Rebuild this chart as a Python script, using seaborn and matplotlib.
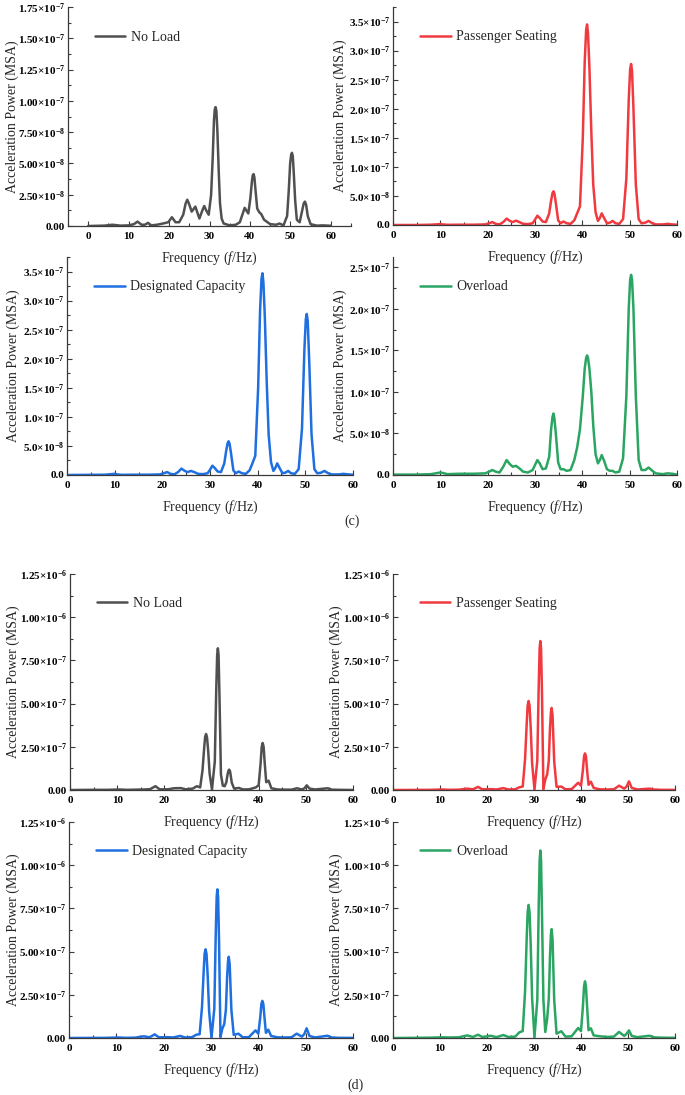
import numpy as np
import matplotlib
matplotlib.use("Agg")
import matplotlib.pyplot as plt
import seaborn as sns
from matplotlib.ticker import FixedLocator, MultipleLocator

sns.set_theme(style="ticks")
plt.rcParams.update({
    "font.family": ["Liberation Serif", "DejaVu Serif"],
    "mathtext.fontset": "custom",
    "mathtext.rm": "Liberation Serif",
    "mathtext.it": "Liberation Serif:italic",
    "mathtext.bf": "Liberation Serif:bold",
    "mathtext.default": "bf",
})

# ---------------- data (power values in units of 1e-9 MSA) ----------------
# (c) No Load
FREQ_C1 = [0, 4, 6, 8, 10,
           11.3, 12.2, 13.2, 14, 14.8,
           15.6, 17, 18.5, 19.8, 20.7,
           21.6, 22.5, 23.5, 24.1, 24.5,
           24.9, 25.6, 26.5, 27.5, 28.3,
           28.7, 29.1, 29.8, 30.4, 30.8,
           31.1, 31.3, 31.5, 31.7, 31.95,
           32.3, 32.6, 33.0, 33.5, 35,
           36.5, 37.5, 38.7, 39.6, 40.1,
           40.5, 40.7, 40.9, 41.1, 41.4,
           41.8, 42.3, 42.8, 43.5, 45,
           46.5, 47.3, 48.3, 49.2, 49.6,
           49.95, 50.2, 50.4, 50.6, 50.85,
           51.2, 51.6, 52.3, 52.9, 53.3,
           53.6, 53.9, 54.3, 55, 56.5,
           58, 60]
NL_C = [0, 0.3, 1, 0.3, 0.5,
        1.5, 3.5, 1, 1, 2.5,
        0.5, 1, 2, 3, 7,
        3, 3, 9, 18, 21,
        18, 11.5, 15.5, 6, 13,
        16, 13, 9, 25, 55,
        84, 93, 95, 92, 76,
        42, 18, 6, 2, 0.5,
        1, 3, 14.5, 10, 22,
        36, 40.5, 41.5, 39, 28,
        14, 11, 9.5, 5, 1.5,
        1, 2, 0.5, 8, 28,
        50, 57, 58.5, 56, 42,
        20, 5, 3, 12, 18,
        19.5, 17, 8, 1.5, 0.3,
        0.5, 0.2]

# (c) Passenger Seating / Designated Capacity / Overload
FREQ_C = [0, 5, 8, 10, 10.5,
          11.5, 14, 17, 19.5, 20.3,
          21, 21.7, 22.5, 23.3, 24,
          24.7, 25.3, 26, 26.7, 27.5,
          28.5, 29.5, 30, 30.5, 31,
          31.6, 32.3, 33, 33.4, 33.7,
          33.9, 34.1, 34.4, 34.9, 35.4,
          36, 36.7, 37.5, 38.3, 38.9,
          39.5, 40.1, 40.5, 40.8, 41.0,
          41.2, 41.5, 41.9, 42.3, 42.8,
          43.3, 43.7, 44.1, 44.6, 45.2,
          45.8, 46.4, 47, 47.8, 48.6,
          49.3, 49.8, 50.1, 50.3, 50.5,
          50.8, 51.3, 51.9, 52.5, 53.3,
          54, 54.8, 55.5, 57, 58,
          59, 60]
PS_C = [0, 0, 0.5, 1.5, 1,
        0.3, 0.5, 0.5, 1, 3,
        5, 2, 1, 5, 11,
        7, 5, 7.5, 5, 2,
        1.5, 3, 9, 16, 12,
        6, 5, 20, 42, 55,
        58, 54, 38, 8, 3,
        6, 3, 2, 8, 20,
        32, 150, 280, 335, 345,
        330, 270, 160, 70, 22,
        7, 12, 20, 12, 3,
        4, 7, 3, 2, 10,
        80, 215, 268, 277, 265,
        200, 70, 10, 3, 4,
        7, 3, 1, 1, 2,
        1, 0.5]
DC_C = [0, 0.3, 0.5, 2, 1,
        0.3, 0.5, 0.5, 1, 3,
        5, 2, 1, 5, 11,
        7, 5, 7, 5, 2,
        1.5, 3, 9, 16, 12,
        6, 5, 20, 42, 55,
        58, 54, 38, 8, 3,
        6, 3, 2, 8, 20,
        33, 150, 282, 337, 347,
        332, 272, 160, 70, 22,
        7, 12, 20, 12, 3,
        4, 7, 3, 2, 10,
        80, 215, 268, 277, 265,
        200, 70, 10, 3, 4,
        7, 3, 1, 1, 2,
        1, 0.5]
OL_C = [0.5, 0.5, 1, 3, 2.5,
        1, 1.5, 1.5, 2, 4,
        6, 4, 3, 10, 18,
        13, 10, 11, 8, 4,
        3, 6, 12, 18, 14,
        7, 8, 22, 55, 70,
        74, 68, 50, 15, 7,
        7, 5, 6, 18, 33,
        55, 95, 128, 141, 144,
        141, 128, 100, 60, 25,
        14, 18, 24, 17, 7,
        5, 5, 3, 4, 20,
        95, 200, 235, 241, 235,
        200, 95, 18, 6, 6,
        9, 5, 2, 1, 2,
        1.5, 0.5]

# (d) all four load cases
FREQ_D = [0, 5, 8, 10.5, 12,
          14, 15.8, 17, 18.1, 19,
          20.8, 22, 23.5, 24.5, 26,
          26.9, 27.6, 28.1, 28.45, 28.65,
          28.85, 29.05, 29.3, 29.6, 30.1,
          30.7, 31.0, 31.2, 31.35, 31.5,
          31.7, 32.0, 32.4, 32.8, 33.15,
          33.4, 33.6, 33.75, 33.95, 34.3,
          34.8, 35.8, 36.7, 38, 39.4,
          40, 40.4, 40.65, 40.85, 41.05,
          41.3, 41.6, 42.1, 42.7, 44,
          45.5, 47, 48.1, 49.2, 49.7,
          50.2, 50.8, 52, 54.6, 55.5,
          57, 60]
NL_D = [0, 1, 1, 3, 1,
        2, 3, 5, 22, 4,
        4, 10, 11, 4, 8,
        22, 15, 115, 245, 308,
        324, 305, 225, 95, 3,
        165, 575, 780, 820, 780,
        530, 90, 25, 22, 45,
        90, 112, 118, 106, 42,
        8, 12, 3, 4, 15,
        28, 150, 250, 272, 250,
        150, 45, 54, 10, 3,
        2, 2, 10, 3, 10,
        27, 8, 3, 10, 2,
        1, 0]
PS_D = [0, 0.5, 1, 3, 1,
        2, 8, 4, 18, 4,
        5, 3, 11, 3, 4,
        16, 20, 180, 385, 490,
        515, 490, 360, 155, 2,
        170, 600, 820, 862, 820,
        560, 5, 60, 90, 170,
        355, 450, 475, 430, 165,
        18, 20, 4, 5, 42,
        25, 115, 195, 212, 195,
        115, 30, 48, 12, 4,
        3, 4, 25, 8, 20,
        50, 12, 3, 8, 3,
        1, 0.5]
DC_D = [0, 0.5, 1, 3, 1,
        2, 10, 4, 21, 4,
        5, 3, 12, 3, 5,
        19, 22, 180, 385, 488,
        513, 488, 360, 155, 2,
        170, 600, 818, 860, 818,
        560, 5, 55, 80, 165,
        350, 446, 470, 425, 165,
        18, 25, 4, 5, 44,
        25, 118, 198, 215, 198,
        118, 30, 48, 12, 4,
        3, 4, 25, 8, 22,
        56, 12, 3, 13, 3,
        1, 0.5]
OL_D = [0, 1, 2, 4, 3,
        4, 15, 6, 19, 6,
        13, 5, 17, 6, 8,
        33, 40, 270, 580, 730,
        770, 730, 540, 230, 3,
        220, 760, 1030, 1085, 1030,
        720, 220, 35, 110, 230,
        470, 600, 630, 570, 220,
        25, 39, 8, 10, 58,
        40, 180, 300, 328, 300,
        180, 45, 56, 15, 10,
        6, 8, 35, 12, 25,
        44, 12, 5, 13, 4,
        2, 1]

SERIES_NAMES = ["No Load", "Passenger Seating", "Designated Capacity", "Overload"]
COLORS = ["#505050", "#f03a40", "#1f6fe0", "#2aa562"]

# tick values / labels
XTICKS = [0, 10, 20, 30, 40, 50, 60]
YT_C1 = [0, 2.5e-8, 5.0e-8, 7.5e-8, 1.0e-7, 1.25e-7, 1.5e-7, 1.75e-7]
YL_C1 = ["0.00", r"2.50×10$^{-8}$", r"5.00×10$^{-8}$", r"7.50×10$^{-8}$", r"1.00×10$^{-7}$",
         r"1.25×10$^{-7}$", r"1.50×10$^{-7}$", r"1.75×10$^{-7}$"]
YT_C23 = [0, 5e-8, 1e-7, 1.5e-7, 2e-7, 2.5e-7, 3e-7, 3.5e-7]
YL_C23 = ["0.0", r"5.0×10$^{-8}$", r"1.0×10$^{-7}$", r"1.5×10$^{-7}$", r"2.0×10$^{-7}$",
          r"2.5×10$^{-7}$", r"3.0×10$^{-7}$", r"3.5×10$^{-7}$"]
YT_C4 = [0, 5e-8, 1e-7, 1.5e-7, 2e-7, 2.5e-7]
YL_C4 = ["0.0", r"5.0×10$^{-8}$", r"1.0×10$^{-7}$", r"1.5×10$^{-7}$", r"2.0×10$^{-7}$",
         r"2.5×10$^{-7}$"]
YT_D = [0, 2.5e-7, 5e-7, 7.5e-7, 1e-6, 1.25e-6]
YL_D = ["0.00", r"2.50×10$^{-7}$", r"5.00×10$^{-7}$", r"7.50×10$^{-7}$", r"1.00×10$^{-6}$",
        r"1.25×10$^{-6}$"]

for f, vals in [(FREQ_C1, NL_C), (FREQ_C, PS_C), (FREQ_C, DC_C), (FREQ_C, OL_C),
                (FREQ_D, NL_D), (FREQ_D, PS_D), (FREQ_D, DC_D), (FREQ_D, OL_D)]:
    assert len(f) == len(vals), (len(f), len(vals))

# ---------------- layout ----------------
W, H = 685, 1095
fig = plt.figure(figsize=(W / 100, H / 100), dpi=100)
fig.patch.set_facecolor("white")

# box = (left, right, top, bottom) in pixels; lab = y-label right edge in pixels
panels = [
    dict(box=(68, 351, 7, 226), f=FREQ_C1, v=NL_C, s=0, xlim=(-5, 65), ylim=(0, 1.75e-7),
         yt=YT_C1, yl=YL_C1, ymin=1.25e-8, lab=19),
    dict(box=(393, 677, 7, 225), f=FREQ_C, v=PS_C, s=1, xlim=(0, 60), ylim=(0, 3.75e-7),
         yt=YT_C23, yl=YL_C23, ymin=2.5e-8, lab=347),
    dict(box=(67, 353, 257, 475), f=FREQ_C, v=DC_C, s=2, xlim=(0, 60), ylim=(0, 3.75e-7),
         yt=YT_C23, yl=YL_C23, ymin=2.5e-8, lab=20),
    dict(box=(393, 677, 257, 475), f=FREQ_C, v=OL_C, s=3, xlim=(0, 60), ylim=(0, 2.625e-7),
         yt=YT_C4, yl=YL_C4, ymin=2.5e-8, lab=347),
    dict(box=(70, 353, 574, 790), f=FREQ_D, v=NL_D, s=0, xlim=(0, 60), ylim=(0, 1.25e-6),
         yt=YT_D, yl=YL_D, ymin=1.25e-7, lab=20),
    dict(box=(393, 675, 574, 790), f=FREQ_D, v=PS_D, s=1, xlim=(0, 60), ylim=(0, 1.25e-6),
         yt=YT_D, yl=YL_D, ymin=1.25e-7, lab=343),
    dict(box=(69, 353, 822, 1038), f=FREQ_D, v=DC_D, s=2, xlim=(0, 60), ylim=(0, 1.25e-6),
         yt=YT_D, yl=YL_D, ymin=1.25e-7, lab=20),
    dict(box=(393, 675, 822, 1038), f=FREQ_D, v=OL_D, s=3, xlim=(0, 60), ylim=(0, 1.25e-6),
         yt=YT_D, yl=YL_D, ymin=1.25e-7, lab=343),
]

SPINE = "#3a3a3a"
for p in panels:
    l, r, t, b = p["box"]
    ax = fig.add_axes([l / W, 1 - b / H, (r - l) / W, (b - t) / H])
    ax.set_facecolor("none")
    x = np.array(p["f"], dtype=float)
    y = np.array(p["v"], dtype=float) * 1e-9
    sns.lineplot(x=x, y=y, ax=ax, color=COLORS[p["s"]], linewidth=1.8,
                 label=SERIES_NAMES[p["s"]], sort=False, estimator=None)
    ax.set_xlim(*p["xlim"])
    ax.set_ylim(*p["ylim"])
    ax.xaxis.set_major_locator(FixedLocator(XTICKS))
    ax.xaxis.set_minor_locator(MultipleLocator(5))
    ax.set_xticklabels([str(v) for v in XTICKS], fontweight="bold", fontsize=8)
    ax.yaxis.set_major_locator(FixedLocator(p["yt"]))
    ax.yaxis.set_minor_locator(MultipleLocator(p["ymin"]))
    ax.set_yticklabels(p["yl"], fontweight="bold", fontsize=8)
    for side in ["top", "right"]:
        ax.spines[side].set_visible(False)
    for side in ["left", "bottom"]:
        ax.spines[side].set_color(SPINE)
        ax.spines[side].set_linewidth(0.9)
    ax.tick_params(axis="both", which="major", direction="in", length=3.5, width=0.8,
                   color=SPINE, labelcolor="black")
    ax.tick_params(axis="both", which="minor", direction="in", length=2.5, width=0.8,
                   color=SPINE)
    ax.tick_params(axis="x", which="major", pad=4)
    ax.tick_params(axis="y", which="major", pad=2)
    ax.set_xlabel(r"Frequency ($\mathit{f}$/Hz)", fontsize=10)
    ax.xaxis.set_label_coords(0.5, -24 / (b - t))
    ax.set_ylabel("Acceleration Power (MSA)", fontsize=10)
    ax.yaxis.set_label_coords((p["lab"] - l) / (r - l), 0.5)
    ax.legend(loc="center left", bbox_to_anchor=(0.095, 0.863), frameon=False,
              handlelength=2.2, handletextpad=0.4, borderpad=0, borderaxespad=0,
              fontsize=10)

fig.text(352 / W, 1 - 521 / H, "(c)", ha="center", va="center", fontsize=10)
fig.text(356 / W, 1 - 1085 / H, "(d)", ha="center", va="center", fontsize=10)

fig.savefig("out.png", dpi=100, facecolor="white")
